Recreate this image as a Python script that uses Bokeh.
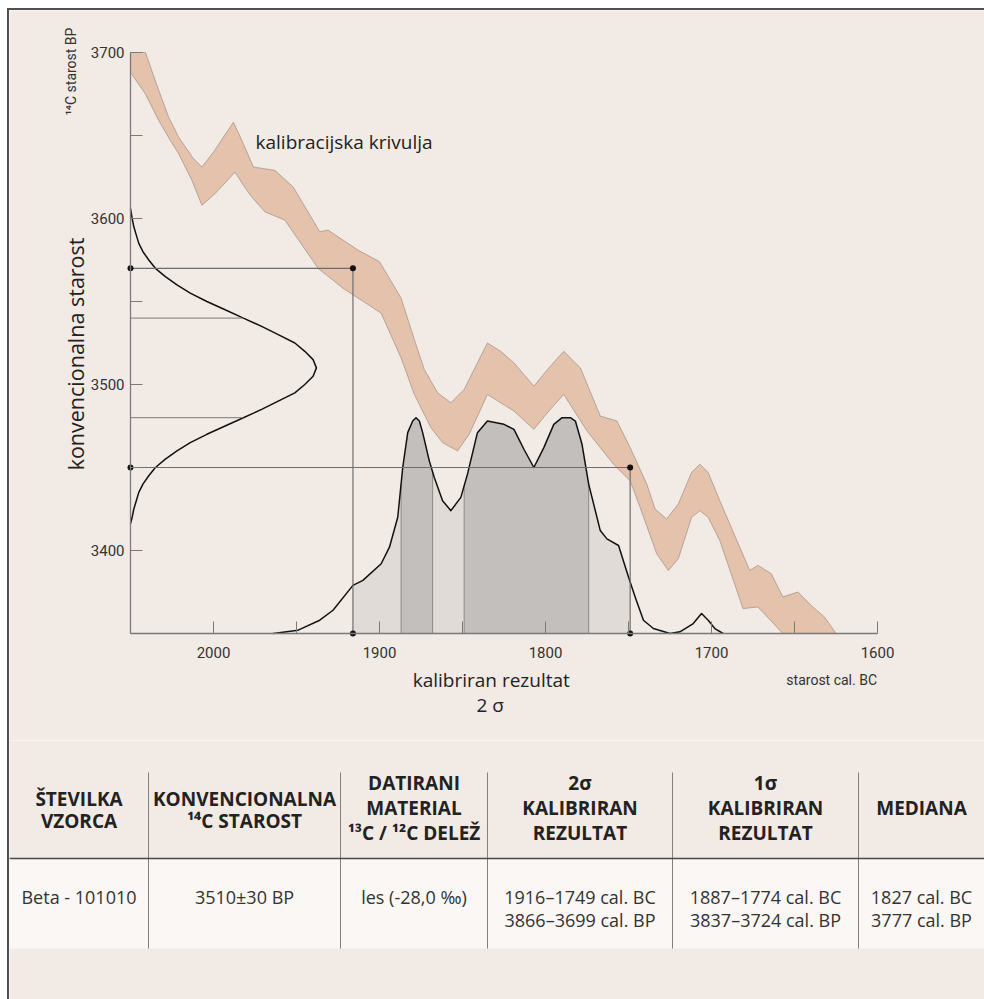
import numpy as np
from bokeh.plotting import figure
from bokeh.layouts import column
from bokeh.models import Range1d, FixedTicker, Label
from bokeh.core.properties import value
from bokeh.embed import file_html
from bokeh.resources import INLINE

# ---------------- data ----------------
# calibration curve band (cal BC year, 14C age BP)
cal_upper_year = [2050, 2041, 2034, 2027, 2021, 2012, 2007, 2000, 1988, 1982, 1976, 1963, 1952, 1936, 1931,
                  1913, 1900, 1887, 1879, 1873, 1865, 1857, 1849, 1835, 1827, 1819, 1807, 1798, 1789, 1779, 1767,
                  1757, 1749, 1739, 1734, 1727, 1720, 1712, 1707, 1702, 1695, 1677, 1672, 1664, 1657, 1648,
                  1639, 1632, 1625]
cal_upper_bp = [3700, 3700, 3680, 3661, 3649, 3636, 3631, 3640, 3658, 3645, 3631, 3629, 3619, 3592, 3593,
                3581, 3574, 3552, 3527, 3509, 3495, 3489, 3497, 3525, 3520, 3513, 3499, 3510, 3520, 3510, 3481,
                3478, 3462, 3440, 3425, 3419, 3428, 3447, 3452, 3447, 3430, 3388, 3391, 3386, 3372, 3375,
                3366, 3360, 3350]
cal_lower_year = [2050, 2041, 2033, 2026, 2021, 2013, 2007, 1999, 1987, 1982, 1977, 1969, 1957, 1937, 1922,
                  1899, 1887, 1879, 1869, 1862, 1853, 1846, 1835, 1819, 1807, 1798, 1789, 1775, 1759, 1749, 1743,
                  1733, 1726, 1720, 1712, 1707, 1702, 1695, 1681, 1672, 1657]
cal_lower_bp = [3688, 3675, 3659, 3647, 3639, 3623, 3608, 3615, 3628, 3620, 3613, 3604, 3599, 3570, 3558,
                3543, 3516, 3494, 3474, 3465, 3460, 3470, 3494, 3484, 3473, 3484, 3494, 3472, 3452, 3442, 3426,
                3398, 3388, 3395, 3420, 3424, 3420, 3406, 3365, 3366, 3350]

# calibrated probability distribution (drawn on the BP axis above the 3350 baseline)
dist_year = [1964, 1949, 1936, 1928, 1916, 1910, 1899, 1894, 1889, 1886, 1883, 1880, 1878, 1876, 1874, 1870,
             1867, 1862, 1857, 1851, 1847, 1841, 1835, 1825, 1819, 1813, 1807, 1801, 1795, 1790, 1788,
             1785, 1782, 1778, 1774, 1767, 1763, 1756, 1750, 1746, 1741, 1735, 1725, 1719, 1711, 1706,
             1702, 1698, 1693]
dist_bp = [3350, 3352, 3358, 3364, 3379, 3382, 3392, 3402, 3420, 3450, 3471, 3478, 3480, 3478, 3471, 3454,
           3444, 3430, 3424, 3432, 3446, 3471, 3478, 3476, 3473, 3461, 3450, 3462, 3476, 3480, 3480,
           3480, 3478, 3464, 3440, 3412, 3407, 3403, 3384, 3372, 3358, 3353, 3350, 3351, 3356, 3362,
           3358, 3353, 3350]

# conventional age distribution (BP, width in years from the axis)
norm_bp = [3606, 3600, 3595, 3590, 3585, 3580, 3575, 3570, 3565, 3560, 3555, 3550, 3545, 3540, 3535,
           3530, 3525, 3520, 3515, 3510, 3505, 3500, 3495, 3490, 3485, 3480, 3475, 3470, 3465, 3460,
           3455, 3450, 3445, 3440, 3435, 3430, 3425, 3420, 3416]
norm_width = [0, 1, 2, 3.5, 5, 7.5, 11, 15, 21, 28, 36, 46, 57, 68, 79,
              89, 99, 105, 110, 112, 110, 105, 99, 89, 79, 68, 57, 46, 36, 28,
              21, 15, 11, 7.5, 5, 3.5, 2, 1, 0]

sigma1_bp = [3480, 3540]
sigma2_bp = [3570, 3450]
sigma2_cal = [1916, 1749]
sigma1_ranges = [(1887, 1868), (1849, 1774)]

y_ticks = [3400, 3500, 3600, 3700]
y_minor = [3450, 3550, 3650]
x_ticks = [1600, 1700, 1800, 1900, 2000]
x_minor = [1650, 1750, 1850, 1950]

headers = [["ŠTEVILKA", "VZORCA"],
           ["KONVENCIONALNA", "¹⁴C STAROST"],
           ["DATIRANI", "MATERIAL", "¹³C / ¹²C DELEŽ"],
           ["2σ", "KALIBRIRAN", "REZULTAT"],
           ["1σ", "KALIBRIRAN", "REZULTAT"],
           ["MEDIANA"]]
cells = [["Beta - 101010"],
         ["3510±30 BP"],
         ["les (-28,0 ‰)"],
         ["1916–1749 cal. BC", "3866–3699 cal. BP"],
         ["1887–1774 cal. BC", "3837–3724 cal. BP"],
         ["1827 cal. BC", "3777 cal. BP"]]

# ---------------- style / layout ----------------
BG = "#f2eae5"
ROW_BG = "#faf7f4"
BAND = "#e4c2ab"
LIGHT = "#e0dbd7"
DARK = "#c3bfbc"
AXIS = "#7a7a7a"
FONT = "Open Sans"
NARROW = "Roboto"

X0, Y0 = 2050, 3350          # axis origin (left / bottom)
X1, Y1 = 1600, 3700          # axis ends
SCALE = 1.66                 # px per unit on both axes
ORG_X, ORG_Y = 130, 52       # pixel position of (2050, 3700) on the page
LEFT, TOP = 9, 10            # page position of the content origin
W, H1, H2 = 975, 730, 259

xr = Range1d(X0 + (ORG_X - LEFT) / SCALE, X0 - (LEFT + W - ORG_X) / SCALE)
yr = Range1d(Y1 - (TOP + H1 - ORG_Y) / SCALE, Y1 + (ORG_Y - TOP) / SCALE)

p = figure(width=W, height=H1, x_range=xr, y_range=yr,
           output_backend="svg", toolbar_location=None, min_border=0,
           background_fill_color=BG, border_fill_color=BG, outline_line_color=None)
p.grid.visible = False

# band
bx = cal_upper_year + cal_lower_year[::-1]
by = cal_upper_bp + cal_lower_bp[::-1]
p.patch(bx, by, fill_color=BAND, line_color="#a8958a", line_width=0.8, line_join="round")

# fills under the calibrated distribution
dy = np.array(dist_year[::-1], float)
db = np.array(dist_bp[::-1], float)


def segment(a, b):
    lo, hi = min(a, b), max(a, b)
    inner = [x for x in dist_year if lo < x < hi]
    xs = [hi] + inner + [lo]
    ys = [float(np.interp(x, dy, db)) for x in xs]
    return xs, ys


xs, ys = segment(*sigma2_cal)
p.varea(x=xs, y1=[Y0] * len(xs), y2=ys, fill_color=LIGHT)
for a, b in sigma1_ranges:
    xs, ys = segment(a, b)
    p.varea(x=xs, y1=[Y0] * len(xs), y2=ys, fill_color=DARK)
for a, b in sigma1_ranges:
    for x in (a, b):
        p.segment(x0=x, y0=Y0, x1=x, y1=float(np.interp(x, dy, db)), line_color="#8c8886", line_width=1)

p.line(dist_year, dist_bp, line_color="#111111", line_width=1.5, line_join="round")

# conventional age curve
p.line([X0 - w for w in norm_width], norm_bp, line_color="#111111", line_width=1.5, line_join="round")

# 1 sigma lines
nb = np.array(norm_bp[::-1], float)
nw = np.array(norm_width[::-1], float)
for v in sigma1_bp:
    p.segment(x0=X0, y0=v, x1=X0 - float(np.interp(v, nb, nw)), y1=v, line_color="#7a7a7a", line_width=1)

# 2 sigma lines
for v, c in zip(sigma2_bp, sigma2_cal):
    p.segment(x0=X0, y0=v, x1=c, y1=v, line_color="#6e6e6e", line_width=1.2)
    p.segment(x0=c, y0=v, x1=c, y1=Y0, line_color="#6e6e6e", line_width=1.2)
dots_x = [X0, X0] + sigma2_cal + sigma2_cal
dots_y = sigma2_bp + sigma2_bp + [Y0, Y0]
p.scatter(dots_x, dots_y, size=6, fill_color="#111111", line_color=None)

# axes (fixed inside the frame)
for ax in p.yaxis:
    ax.fixed_location = X0
    ax.bounds = (Y0, Y1)
    ax.ticker = FixedTicker(ticks=y_ticks, minor_ticks=y_minor)
    ax.major_label_standoff = 6
for ax in p.xaxis:
    ax.fixed_location = Y0
    ax.bounds = (X1, X0)
    ax.ticker = FixedTicker(ticks=x_ticks, minor_ticks=x_minor)
    ax.major_label_standoff = 13
for ax in list(p.xaxis) + list(p.yaxis):
    ax.axis_line_color = AXIS
    ax.axis_line_width = 1.3
    ax.major_tick_line_color = AXIS
    ax.minor_tick_line_color = AXIS
    ax.major_tick_in = 12
    ax.major_tick_out = 0
    ax.minor_tick_in = 12
    ax.minor_tick_out = 0
    ax.major_label_text_font = NARROW
    ax.major_label_text_font_size = "15px"
    ax.major_label_text_color = "#333333"


def lab(x, y, t, size="19px", font=FONT, align="center", angle=0.0, color="#222222"):
    p.add_layout(Label(x=x, y=y, text=t, text_font=font, text_font_size=size,
                       text_align=align, text_baseline="middle", angle=angle, text_color=color))


lab(1974.7, 3645.8, "kalibracijska krivulja", align="left")
lab(2083.1, 3518.4, "konvencionalna starost", size="21.5px", angle=np.pi / 2)
lab(2086.1, 3688.6, "¹⁴C starost BP", size="14px", font=NARROW, angle=np.pi / 2, color="#333333")
lab(1832.7, 3321.9, "kalibriran rezultat")
lab(1833.3, 3306.9, "2 σ")
lab(1600.3, 3321.9, "starost cal. BC", size="14px", font=NARROW, align="right", color="#333333")

# ---------------- table (page pixel coordinates) ----------------
t = figure(width=W, height=H2, x_range=Range1d(LEFT, LEFT + W), y_range=Range1d(TOP + H1 + H2, TOP + H1),
           output_backend="svg", toolbar_location=None, x_axis_type=None, y_axis_type=None,
           min_border=0, background_fill_color=BG, border_fill_color=BG, outline_line_color=None)
t.grid.visible = False

edges = [LEFT, 148, 340, 487, 672, 858, LEFT + W]
HEAD_TOP, HEAD_BOT, ROW_BOT = 772, 858, 948
t.quad(left=edges[0], right=edges[-1], top=HEAD_BOT, bottom=ROW_BOT, fill_color=ROW_BG, line_color=None)
t.segment(x0=edges[1:-1], y0=[HEAD_TOP] * 5, x1=edges[1:-1], y1=[ROW_BOT] * 5, line_color="#808080", line_width=1)
t.segment(x0=[edges[0]], y0=[HEAD_BOT], x1=[edges[-1]], y1=[HEAD_BOT], line_color="#4a4a4a", line_width=1.5)

spacing = {1: 0, 2: 22, 3: 25}
center = {1: 807, 2: 809, 3: 807}
hx, hy, ht = [], [], []
for i, lines in enumerate(headers):
    cx = (edges[i] + edges[i + 1]) / 2
    n = len(lines)
    for j, s in enumerate(lines):
        hx.append(cx)
        hy.append(center[n] + (j - (n - 1) / 2) * spacing[n])
        ht.append(s)
t.text(x=hx, y=hy, text=ht, text_font=value(FONT), text_font_style="bold", text_font_size="19px",
       text_align="center", text_baseline="middle", text_color="#222222")

cx_, cy_, ct_ = [], [], []
for i, lines in enumerate(cells):
    cx = (edges[i] + edges[i + 1]) / 2
    for j, s in enumerate(lines):
        cx_.append(cx)
        cy_.append(896 + j * 23)
        ct_.append(s)
t.text(x=cx_, y=cy_, text=ct_, text_font=value(FONT), text_font_size="18px",
       text_align="center", text_baseline="middle", text_color="#333333")

layout = column(p, t, spacing=0,
                styles={"margin-left": "7px", "margin-top": "8px",
                        "border-left": "2px solid #505050", "border-top": "2px solid #505050"})

open("out.html", "w").write(file_html(layout, INLINE))
